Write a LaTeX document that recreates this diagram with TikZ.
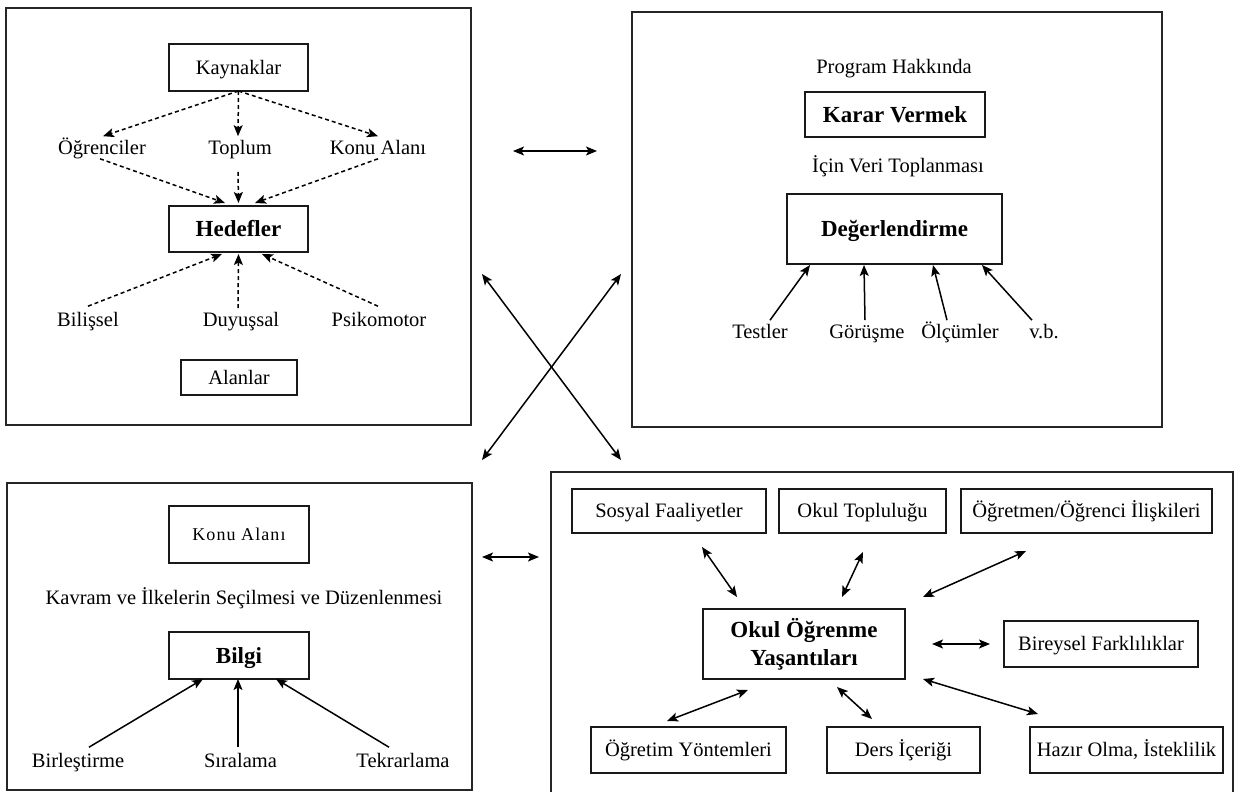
\documentclass[tikz,border=0pt]{standalone}
\usepackage{fontspec}
\setmainfont{Liberation Serif}
\newfontfamily\spacedserif{Liberation Serif}[LetterSpace=6]
\usetikzlibrary{arrows.meta,calc}

\begin{document}
\begin{tikzpicture}[x=1pt,y=-1pt,
  every node/.style={inner sep=0pt, outer sep=0pt},
  outerframe/.style={draw=black!85, line width=1.8pt},
  regfont/.style={font=\fontsize{20.5}{24}\selectfont},
  capfit/.style={text height=13.6pt, text depth=0pt},
  txtbox/.style={draw=black!90, line width=1.6pt, regfont, capfit},
  boldfont/.style={font=\fontsize{23}{28}\selectfont\bfseries},
  boldbox/.style={draw=black!90, line width=1.6pt, boldfont, text height=15.5pt, text depth=0pt},
  lbl/.style={regfont, capfit},
  headtip/.tip={Stealth[length=11pt,width=9pt,inset=2.5pt]},
  arr/.style={-headtip, line width=1.5pt},
  darr/.style={headtip-headtip, line width=1.5pt},
  dasharr/.style={-headtip, line width=1.5pt, dash pattern=on 4pt off 3pt}
]
\fill[white] (0,0) rectangle (1234,792);
\useasboundingbox (0,0) rectangle (1234,792);

% ---------- Hedefler panel ----------
\node[outerframe, minimum width=465pt, minimum height=417pt] (tl) at (238.5,216.5) {};
\node[txtbox, minimum width=139pt, minimum height=47pt] (kaynak) at (238.5,67.5) {Kaynaklar};
\node[lbl] (ogr) at (102,148) {Öğrenciler};
\node[lbl] (toplum) at (240,148) {Toplum};
\node[lbl] (konu) at (378,148) {Konu Alanı};
\node[boldbox, minimum width=139pt, minimum height=46pt] (hedef) at (238.5,229) {Hedefler};
\node[lbl] (bilissel) at (88,320) {Bilişsel};
\node[lbl] (duyussal) at (241,320) {Duyuşsal};
\node[lbl] (psiko) at (379,320) {Psikomotor};
\node[txtbox, minimum width=116pt, minimum height=35pt] (alanlar) at (239,377.5) {Alanlar};

\draw[dasharr] (kaynak.south) -- ($(ogr.north)+(1,-5)$);
\draw[dasharr] (kaynak.south) -- ($(toplum.north)+(-2,-5)$);
\draw[dasharr] (kaynak.south) -- ($(konu.north)+(0,-5)$);
\draw[dasharr] ($(ogr.south)+(-2,4)$) -- ($(hedef.north)+(-13.5,-3)$);
\draw[dasharr] ($(toplum.south)+(-2,17)$) -- ($(hedef.north)+(0,-3)$);
\draw[dasharr] ($(konu.south)+(0,4)$) -- ($(hedef.north)+(16.5,-3)$);
\draw[dasharr] ($(bilissel.north)+(0,-7)$) -- ($(hedef.south)+(-16.5,2)$);
\draw[dasharr] ($(duyussal.north)+(-3,-5)$) -- ($(hedef.south)+(0,2)$);
\draw[dasharr] ($(psiko.north)+(-1,-7)$) -- ($(hedef.south)+(23.5,2)$);

% ---------- Degerlendirme panel ----------
\node[outerframe, minimum width=530pt, minimum height=415pt] (tr) at (897,219.5) {};
\node[lbl] (prog) at (894,67) {Program Hakkında};
\node[boldbox, minimum width=180pt, minimum height=45pt] (karar) at (895,114.5) {Karar Vermek};
\node[lbl] (icin) at (898,166) {İçin Veri Toplanması};
\node[boldbox, minimum width=215pt, minimum height=70pt] (deger) at (894.5,229) {Değerlendirme};
\node[lbl] (testler) at (760,332) {Testler};
\node[lbl] (gorusme) at (867,332) {Görüşme};
\node[lbl] (olcum) at (960,332) {Ölçümler};
\node[lbl] (vb) at (1044,332) {v.b.};

\draw[arr] ($(testler.north)+(10,-5)$) -- ($(deger.south)+(-84.5,1)$);
\draw[arr] ($(gorusme.north)+(-2,-5)$) -- ($(deger.south)+(-30.5,1)$);
\draw[arr] ($(olcum.north)+(-13,-5)$) -- ($(deger.south)+(38.5,1)$);
\draw[arr] ($(vb.north)+(-12,-5)$) -- ($(deger.south)+(87.5,1)$);

% ---------- Bilgi panel ----------
\node[outerframe, minimum width=465pt, minimum height=307pt] (bl) at (239.5,636.5) {};
\node[draw=black!90, line width=1.6pt, font=\spacedserif\fontsize{18}{22}\selectfont,
      text height=12pt, text depth=0pt, minimum width=140pt, minimum height=57pt] (konu2) at (239,534.5) {Konu Alanı};
\node[lbl] (kavram) at (244,598) {Kavram ve İlkelerin Seçilmesi ve Düzenlenmesi};
\node[boldbox, minimum width=140pt, minimum height=47pt] (bilgi) at (239,655.5) {Bilgi};
\node[lbl] (birles) at (78,761) {Birleştirme};
\node[lbl] (sirala) at (240.5,761) {Sıralama};
\node[lbl] (tekrar) at (403,761) {Tekrarlama};

\draw[arr] ($(birles.north)+(11,-7)$) -- ($(bilgi.south)+(-36,0)$);
\draw[arr] ($(sirala.north)+(-2.5,-7)$) -- ($(bilgi.south)+(-1,0)$);
\draw[arr] ($(tekrar.north)+(-14,-7)$) -- ($(bilgi.south)+(37,0)$);

% ---------- Okul Ogrenme Yasantilari panel ----------
\node[outerframe, minimum width=682pt, minimum height=340pt] (br) at (892,642) {};
\node[txtbox, minimum width=194pt, minimum height=44pt] (sosyal) at (669,511) {Sosyal Faaliyetler};
\node[txtbox, minimum width=167pt, minimum height=44pt] (okultop) at (862.5,511) {Okul Topluluğu};
\node[txtbox, minimum width=251pt, minimum height=44pt] (ogretmen) at (1086.5,511) {Öğretmen/Öğrenci İlişkileri};
\node[draw=black!90, line width=1.6pt, boldfont, align=center,
      minimum width=202pt, minimum height=70pt] (okul) at (804,644) {Okul Öğrenme\\Yaşantıları};
\node[txtbox, minimum width=194pt, minimum height=46pt] (bireysel) at (1101,644) {Bireysel Farklılıklar};
\node[txtbox, minimum width=195pt, minimum height=46pt] (ogretim) at (688.5,750) {Öğretim Yöntemleri};
\node[txtbox, minimum width=153pt, minimum height=46pt] (ders) at (903.5,750) {Ders İçeriği};
\node[txtbox, minimum width=193pt, minimum height=46pt] (hazir) at (1126.5,750) {Hazır Olma, İsteklilik};

\draw[darr] ($(sosyal.south)+(33,14)$) -- ($(okul.north)+(-67,-12)$);
\draw[darr] ($(okultop.south)+(0.5,19)$) -- ($(okul.north)+(38,-12)$);
\draw[darr] ($(okul.north east)+(18,-12)$) -- ($(ogretmen.south)+(-60.5,18)$);
\draw[darr] ($(okul.east)+(27,0)$) -- ($(bireysel.west)+(-14,0)$);
\draw[darr] ($(okul.south east)+(18,0)$) -- ($(hazir.north)+(-88.5,-13)$);
\draw[darr] ($(okul.south)+(33,8)$) -- ($(ders.north)+(-31.5,-8)$);
\draw[darr] ($(okul.south)+(-56,11)$) -- ($(ogretim.north)+(-21.5,-6)$);

% ---------- links between the panels ----------
\coordinate (topL) at ($(tl.east)+(42,-65.5)$);
\coordinate (topR) at ($(tr.west)+(-35,-68.5)$);
\coordinate (xTL) at ($(tl.east)+(11,57.5)$);
\coordinate (xTR) at ($(tr.west)+(-11,54.5)$);
\coordinate (xBL) at ($(bl.north east)+(10,-23)$);
\coordinate (xBR) at ($(br.north west)+(70,-12)$);
\coordinate (botL) at ($(bl.east)+(10,-79.5)$);
\coordinate (botR) at ($(br.west)+(-12,-85)$);

\draw[darr] (topL) -- (topR);
\draw[darr] (xTL) -- (xBR);
\draw[darr] (xTR) -- (xBL);
\draw[darr] (botL) -- (botR);
\end{tikzpicture}
\end{document}
